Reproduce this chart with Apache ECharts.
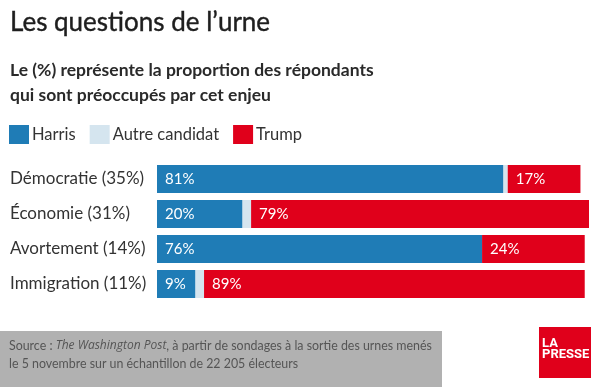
<!DOCTYPE html>
<html><head><meta charset="utf-8">
<script src="https://cdn.jsdelivr.net/npm/echarts@6/dist/echarts.min.js"></script>
<style>html,body{margin:0;padding:0;background:#fff}#c{width:595px;height:388px}</style>
</head><body><div id="c"></div>
<script>
const categories = ['Démocratie (35%)', 'Économie (31%)', 'Avortement (14%)', 'Immigration (11%)'];
const harris = [81, 20, 76, 9];
const autre = [1, 2, 0, 2];
const trump = [17, 79, 24, 89];
const seriesNames = ['Harris', 'Autre candidat', 'Trump'];
const colors = ['#1f7cb6', '#d5e5ef', '#e0001b'];

const FONT = 'Lato';
const chart = echarts.init(document.getElementById('c'));
const lbl = {
  show: true, position: 'insideLeft', distance: 8, color: '#fff', fontSize: 15, fontFamily: FONT,
  formatter: p => p.value > 0 ? p.value + '%' : ''
};
chart.setOption({
  animation: false,
  textStyle: { fontFamily: FONT },
  title: [
    { text: 'Les questions de l\u2019urne', left: 10, top: 10, padding: 0,
      textStyle: { fontSize: 26, fontWeight: 'normal', color: '#1e1e1e', fontFamily: FONT, textBorderColor: '#1e1e1e', textBorderWidth: 0.4 } },
    { text: 'Le (%) représente la proportion des répondants\nqui sont préoccupés par cet enjeu', left: 10, top: 58, padding: 0,
      textStyle: { fontSize: 17.5, fontWeight: 'bold', color: '#2a2a2a', lineHeight: 25, fontFamily: FONT } }
  ],
  legend: {
    data: seriesNames, left: 9, top: 125, padding: 0, itemWidth: 20, itemHeight: 19, itemGap: 14,
    icon: 'rect', textStyle: { fontSize: 16.5, color: '#333', fontFamily: FONT, padding: [0, 0, 0, -2] }
  },
  grid: { left: 157, top: 161.5, height: 140, width: 432 },
  xAxis: { type: 'value', min: 0, max: 101, show: false },
  yAxis: {
    type: 'category', data: categories, inverse: true,
    axisLine: { show: false }, axisTick: { show: false },
    axisLabel: { align: 'left', margin: 147, fontSize: 17, color: '#333', fontFamily: FONT }
  },
  series: [
    { name: seriesNames[0], type: 'bar', stack: 't', data: harris, barWidth: 28, itemStyle: { color: colors[0] }, label: lbl },
    { name: seriesNames[1], type: 'bar', stack: 't', data: autre, barWidth: 28, itemStyle: { color: colors[1] }, label: { show: false } },
    { name: seriesNames[2], type: 'bar', stack: 't', data: trump, barWidth: 28, itemStyle: { color: colors[2] }, label: lbl }
  ],
  graphic: [
    { type: 'rect', shape: { x: 0, y: 331, width: 442, height: 56 }, style: { fill: '#b1b1b1' } },
    { type: 'text', x: 9, y: 337, style: {
        rich: { i: { font: 'italic 12px "Open Sans"', fill: '#555' }, n: { font: 'normal 12.4px Lato', fill: '#555' } },
        text: '{n|Source : }{i|The Washington Post}{n|, à partir de sondages à la sortie des urnes menés}\n{n|le 5 novembre sur un échantillon de 22 205 électeurs}',
        font: 'normal 12.4px Lato', lineHeight: 18, fill: '#555' } },
    { type: 'rect', shape: { x: 539, y: 327, width: 52, height: 51 }, style: { fill: '#e0001b' } },
    { type: 'text', x: 542, y: 338, style: { text: 'LA\nPRESSE', fill: '#fff', font: 'bold 13px Roboto', lineHeight: 11 } }
  ]
});
</script></body></html>
